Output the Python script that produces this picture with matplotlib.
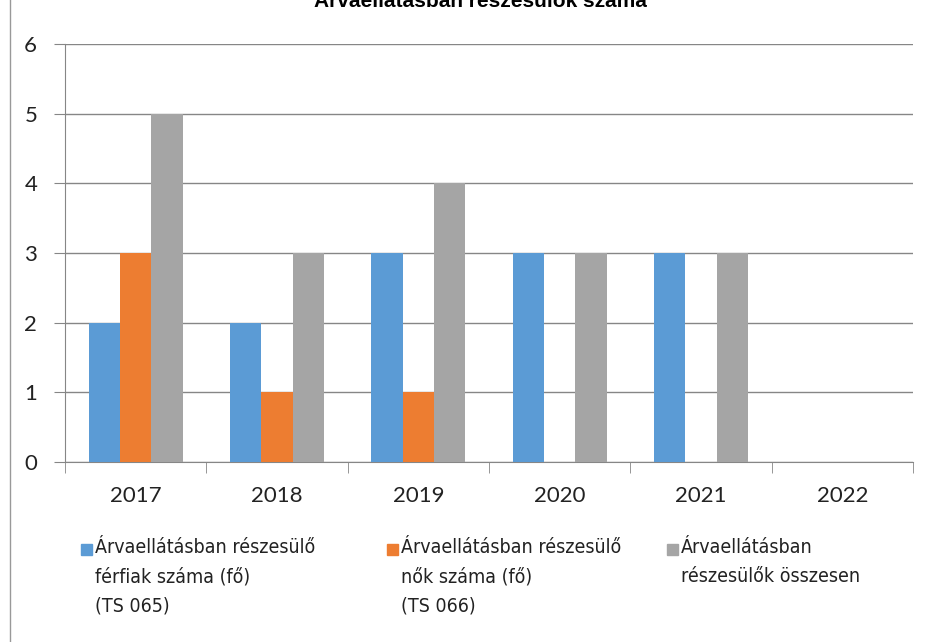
import numpy as np
import matplotlib.pyplot as plt
from matplotlib.patches import Rectangle
from matplotlib.lines import Line2D

years = ['2017', '2018', '2019', '2020', '2021', '2022']
ferfiak = [2, 2, 3, 3, 3, 0]
nok = [3, 1, 1, 0, 0, 0]
osszesen = [5, 3, 4, 3, 3, 0]
labels = ['Árvaellátásban részesülő\nférfiak száma (fő)\n(TS 065)',
          'Árvaellátásban részesülő\nnők száma (fő)\n(TS 066)',
          'Árvaellátásban\nrészesülők összesen']
colors = ['#5B9BD5', '#ED7D31', '#A5A5A5']

fig = plt.figure(figsize=(9.36, 6.42), dpi=100)
fig.set_facecolor('white')
ax = fig.add_axes([65/936, 1-462/642, (913-65)/936, (462-44)/642])

x = np.arange(len(years))
w = 1/4.5
for i, vals in enumerate([ferfiak, nok, osszesen]):
    ax.bar(x + (i-1)*w, vals, w, color=colors[i], zorder=3)

ax.set_xlim(-0.5, len(years)-0.5)
ax.set_ylim(0, 6)
ax.set_yticks(range(7))
ax.yaxis.grid(True, color='#868686', linewidth=1, zorder=0)
for s in ['top', 'right']:
    ax.spines[s].set_visible(False)
for s in ['left', 'bottom']:
    ax.spines[s].set_color('#868686')
ax.tick_params(axis='y', length=8, color='#868686', labelsize=16, pad=12)
ax.set_xticks(x)
ax.set_xticklabels(years)
ax.set_xticks(np.arange(-0.5, len(years)), minor=True)
ax.tick_params(axis='x', which='major', length=0, labelsize=16, pad=17)
ax.tick_params(axis='x', which='minor', length=8, color='#868686')
for t in ax.get_xticklabels() + ax.get_yticklabels():
    t.set_family(['Lato', 'DejaVu Sans'])
    t.set_color('#222222')

# title, cut off at top edge like in the original
fig.text(480/936, 1-7/642, 'Árvaellátásban részesülők száma', ha='center',
         va='baseline', fontsize=15, fontweight='bold', family=['Liberation Sans', 'DejaVu Sans'])

# legend drawn by hand
sq_x = [81, 387, 667]
tx_x = [95, 401, 681]
for i in range(3):
    fig.patches.append(Rectangle((sq_x[i]/936, 1-555/642), 11/936, 11/642,
                                 transform=fig.transFigure, color=colors[i]))
    fig.text(tx_x[i]/936, 1-538/642, labels[i], ha='left', va='top', fontsize=14,
             linespacing=1.68, family='DejaVu Sans', stretch='condensed', color='#222222')

fig.add_artist(Line2D([10/936, 10/936], [0, 1], color='#999999', linewidth=1))

fig.savefig('out.png', dpi=100, facecolor='white')
